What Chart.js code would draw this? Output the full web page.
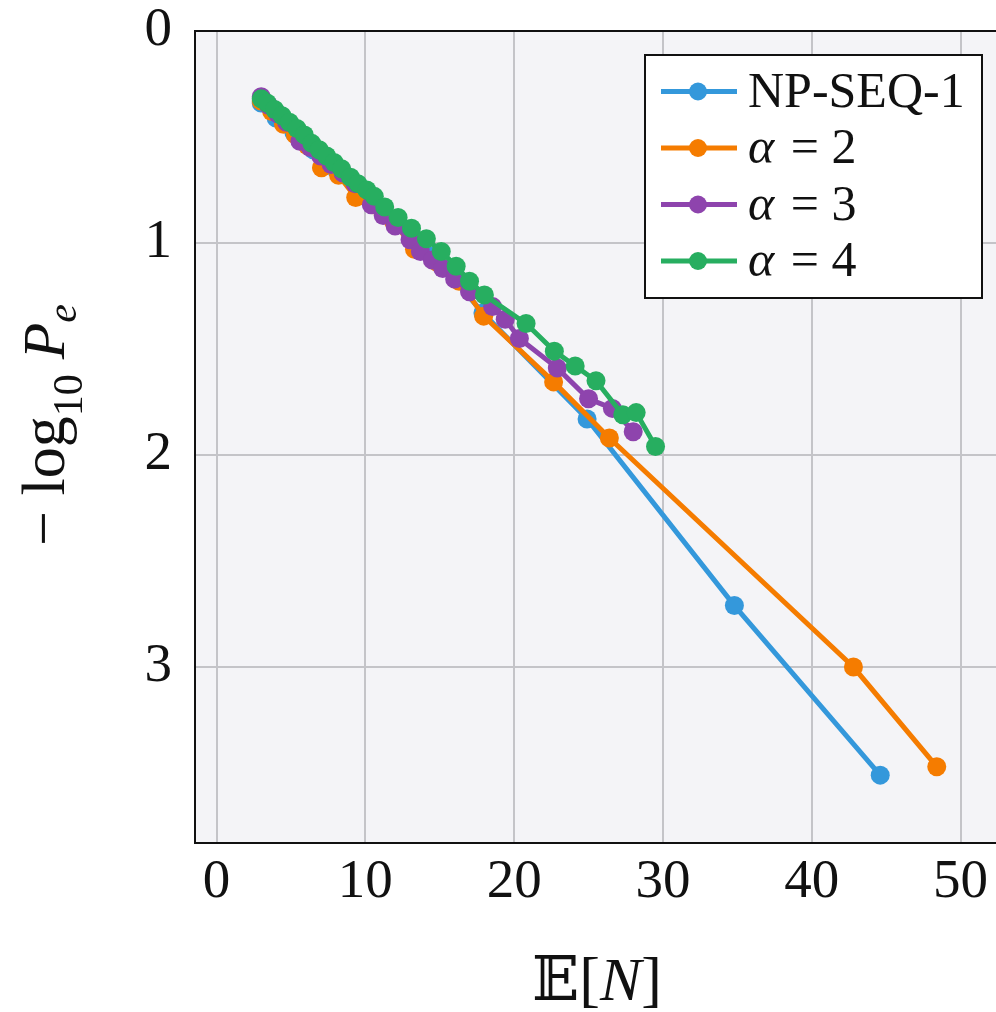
<!DOCTYPE html>
<html>
<head>
<meta charset="utf-8">
<script src="https://cdn.jsdelivr.net/npm/chart.js@4.4.1/dist/chart.umd.min.js"></script>
<style>
  html, body { margin: 0; padding: 0; background: #fff; overflow: hidden; }
  #wrap { width: 1040px; height: 1012px; }
</style>
</head>
<body>
<div id="wrap"><canvas id="chart" width="1040" height="1012"></canvas></div>
<script>
// values: x = E[N], y = -log10 Pe
const npX = [3.0, 4.0, 5.2, 6.5, 8.0, 9.8, 12.0, 14.6, 17.9, 24.9, 34.8, 44.6];
const npY = [0.34, 0.41, 0.48, 0.56, 0.65, 0.76, 0.90, 1.06, 1.33, 1.83, 2.71, 3.51];

const a2X = [3.0, 3.7, 4.5, 5.3, 6.1, 7.05, 8.2, 9.35, 10.6, 11.9, 13.3, 14.8, 16.3, 17.95, 22.65, 26.4, 42.8, 48.4];
const a2Y = [0.33, 0.38, 0.44, 0.49, 0.54, 0.645, 0.68, 0.785, 0.82, 0.90, 1.03, 1.09, 1.18, 1.345, 1.655, 1.92, 3.0, 3.47];

const a3X = [3.0, 3.5, 4.1, 4.7, 5.6, 6.3, 7.0, 7.7, 8.5, 9.3, 10.4, 11.2, 12.0, 13.0, 13.7, 14.5, 15.2, 16.0, 17.0, 18.55, 19.4, 20.35, 22.9, 25.0, 26.6, 28.0];
const a3Y = [0.31, 0.35, 0.39, 0.43, 0.52, 0.55, 0.59, 0.63, 0.67, 0.72, 0.82, 0.87, 0.92, 0.985, 1.04, 1.08, 1.12, 1.17, 1.23, 1.30, 1.36, 1.45, 1.59, 1.735, 1.78, 1.89];

const a4X = [3.0, 3.4, 3.9, 4.4, 4.9, 5.4, 5.9, 6.4, 6.9, 7.4, 7.9, 8.4, 9.0, 9.5, 10.1, 10.6, 11.3, 12.2, 13.1, 14.1, 15.1, 16.1, 17.0, 18.0, 20.8, 22.7, 24.1, 25.5, 27.3, 28.2, 29.5];
const a4Y = [0.32, 0.34, 0.37, 0.40, 0.43, 0.46, 0.49, 0.53, 0.56, 0.59, 0.62, 0.65, 0.69, 0.72, 0.75, 0.78, 0.83, 0.88, 0.93, 0.98, 1.04, 1.11, 1.18, 1.245, 1.38, 1.51, 1.58, 1.65, 1.81, 1.80, 1.96];

const seriesNames = ["NP-SEQ-1", "α = 2", "α = 3", "α = 4"];
const seriesColors = ["#3498db", "#f57c00", "#8e44ad", "#27ae60"];
const xTicks = [0, 10, 20, 30, 40, 50];
const yTicks = [0, 1, 2, 3];

const serif = '"Liberation Serif", "DejaVu Serif", serif';

function pts(xs, ys) {
  return xs.map((x, i) => ({ x: x, y: ys[i] }));
}

function makeSet(i, xs, ys, order) {
  return {
    label: seriesNames[i],
    data: pts(xs, ys),
    borderColor: seriesColors[i],
    backgroundColor: seriesColors[i],
    borderWidth: 5,
    pointRadius: 9.5,
    pointHoverRadius: 9.5,
    pointBorderWidth: 0,
    tension: 0,
    order: order
  };
}

// draw a row of text pieces (mixed fonts), centred on x, baseline y
function drawRuns(ctx, runs, x, y) {
  let w = 0;
  runs.forEach(r => { ctx.font = r.font; r.w = ctx.measureText(r.text).width; w += r.w; });
  let cx = x - w / 2;
  runs.forEach(r => {
    ctx.font = r.font;
    ctx.fillText(r.text, cx, y + (r.dy || 0));
    cx += r.w;
  });
}

const frame = {
  id: "frame",
  beforeDraw(chart) {
    const { ctx, chartArea: a } = chart;
    ctx.save();
    ctx.fillStyle = "#f4f4f7";
    ctx.fillRect(a.left, a.top, a.width, a.height);
    ctx.restore();
  },
  afterDraw(chart) {
    const { ctx, chartArea: a } = chart;
    ctx.save();
    ctx.strokeStyle = "#111";
    ctx.lineWidth = 2;
    ctx.strokeRect(a.left, a.top, a.width, a.height);

    // axis titles
    ctx.fillStyle = "#111";
    ctx.textBaseline = "alphabetic";
    drawRuns(ctx, [
      { text: "𝔼", font: "62px " + serif },
      { text: "[", font: "62px " + serif },
      { text: "N", font: "italic 62px " + serif },
      { text: "]", font: "62px " + serif }
    ], 597, 1000);

    ctx.save();
    ctx.translate(64, 425);
    ctx.rotate(-Math.PI / 2);
    drawRuns(ctx, [
      { text: "− log", font: "62px " + serif },
      { text: "10", font: "42px " + serif, dy: 18 },
      { text: " ", font: "60px " + serif },
      { text: "P", font: "italic 60px " + serif },
      { text: "e", font: "italic 42px " + serif, dy: 12 }
    ], 0, 0);
    ctx.restore();

    // legend box
    const bx = 645, by = 55, bw = 337, bh = 243;
    ctx.fillStyle = "#fff";
    ctx.fillRect(bx, by, bw, bh);
    ctx.strokeStyle = "#111";
    ctx.lineWidth = 2;
    ctx.strokeRect(bx, by, bw, bh);
    seriesNames.forEach((name, i) => {
      const ry = 91.5 + i * 56.5;
      ctx.strokeStyle = seriesColors[i];
      ctx.lineWidth = 5;
      ctx.beginPath();
      ctx.moveTo(661, ry);
      ctx.lineTo(737, ry);
      ctx.stroke();
      ctx.fillStyle = seriesColors[i];
      ctx.beginPath();
      ctx.arc(698, ry, 9, 0, Math.PI * 2);
      ctx.fill();
      ctx.fillStyle = "#111";
      ctx.textAlign = "left";
      const base = ry + 15;
      if (name.startsWith("α")) {
        ctx.font = "italic 50px " + serif;
        ctx.fillText("α", 748, base);
        ctx.font = "50px " + serif;
        ctx.fillText(name.slice(1), 748 + ctx.measureText("α").width + 4, base);
      } else {
        ctx.font = "50px " + serif;
        ctx.fillText(name, 748, base);
      }
    });
    ctx.restore();
  }
};

new Chart(document.getElementById("chart"), {
  type: "line",
  data: {
    datasets: [
      makeSet(0, npX, npY, 3),
      makeSet(1, a2X, a2Y, 2),
      makeSet(2, a3X, a3Y, 1),
      makeSet(3, a4X, a4Y, 0)
    ]
  },
  options: {
    responsive: false,
    animation: false,
    devicePixelRatio: 1,
    layout: { padding: { top: 31, right: 2, left: 0, bottom: 0 } },
    plugins: { legend: { display: false }, tooltip: { enabled: false } },
    scales: {
      x: {
        type: "linear",
        min: -1.45,
        max: 54.7,
        afterBuildTicks: s => { s.ticks = xTicks.map(v => ({ value: v })); },
        afterFit: s => { s.height = 169; },
        grid: { color: "#c4c4c8", lineWidth: 2, drawTicks: false },
        border: { display: false },
        ticks: { color: "#111", padding: 12, font: { family: serif, size: 55, lineHeight: 1 } }
      },
      y: {
        type: "linear",
        reverse: true,
        min: 0,
        max: 3.83,
        afterBuildTicks: s => { s.ticks = yTicks.map(v => ({ value: v })); },
        afterFit: s => { s.width = 195; s.paddingTop = 0; s.paddingBottom = 0; },
        grid: { color: "#c4c4c8", lineWidth: 2, drawTicks: false },
        border: { display: false },
        ticks: { color: "#111", padding: 23, font: { family: serif, size: 55, lineHeight: 0.5 } }
      }
    }
  },
  plugins: [frame]
});
</script>
</body>
</html>
